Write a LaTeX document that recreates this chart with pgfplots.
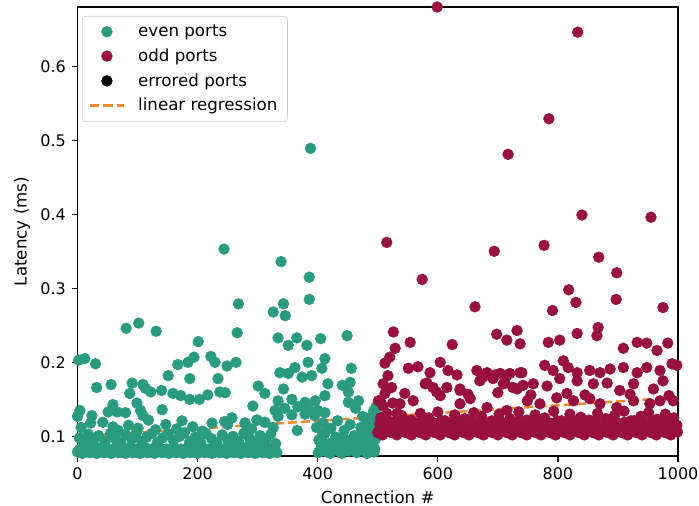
\documentclass[border=0pt]{standalone}
\usepackage{fontspec}
\setmainfont{DejaVu Sans}
\usepackage{pgfplots}
\pgfplotsset{compat=1.18}
\definecolor{evenc}{RGB}{40,155,128}
\definecolor{oddc}{RGB}{153,16,62}
\definecolor{regc}{RGB}{240,136,44}
\begin{document}
\begin{tikzpicture}
\begin{axis}[
  name=ax,
  scale only axis,
  width=360.3pt, height=269.4pt,
  xmin=0, xmax=1000, ymin=0.0735, ymax=0.68,
  xtick={0,200,400,600,800,1000},
  ytick={0.1,0.2,0.3,0.4,0.5,0.6},
  tick pos=left, tick align=outside, major tick length=3.5pt,
  axis line style={line width=0.8pt},
  every tick/.style={black,line width=0.8pt},
  tick label style={font=\fontsize{9.6}{11}\selectfont},
  /pgf/number format/assume math mode=true,
  /pgf/number format/1000 sep={},
  yticklabel style={/pgf/number format/fixed,/pgf/number format/precision=1,/pgf/number format/fixed zerofill},
  xlabel={Connection \#}, ylabel={Latency (ms)},
  label style={font=\fontsize{10}{12}\selectfont},
  xlabel style={at={(axis description cs:0.5,-0.0913)},anchor=center},
  ylabel style={at={(axis description cs:-0.0925,0.5)},anchor=center},
  title={Comparison of latency vs.\ connection with linear regression},
  title style={at={(axis description cs:0.5,1)},anchor=base,yshift=3.6pt,font=\fontsize{10.6}{12}\selectfont},
  legend image code/.code={\draw[mark repeat=2,mark phase=2,#1] plot coordinates {(0pt,0pt) (10pt,0pt) (20pt,0pt)};},
  legend cell align=left,
  legend style={at={(axis description cs:0.0075,0.98)},anchor=north west,draw=black!20,rounded corners=2pt,fill=white,font=\fontsize{10}{12}\selectfont,row sep=1.8pt,inner xsep=4pt,inner ysep=3pt,
    /tikz/every odd column/.append style={column sep=6pt}},
]
% even ports
\addplot[only marks, mark=*, mark size=3.2pt, color=evenc] table[row sep=\\] {
x y\\
0 0.079\\ 4 0.083\\ 8 0.077\\ 12 0.081\\ 16 0.085\\ 20 0.078\\
24 0.079\\ 28 0.083\\ 32 0.077\\ 36 0.081\\ 40 0.085\\ 44 0.078\\
48 0.079\\ 52 0.083\\ 56 0.077\\ 60 0.081\\ 64 0.085\\ 68 0.078\\
72 0.079\\ 76 0.083\\ 80 0.077\\ 84 0.081\\ 88 0.085\\ 92 0.078\\
96 0.079\\ 100 0.083\\ 104 0.077\\ 108 0.081\\ 112 0.085\\ 116 0.078\\
120 0.079\\ 124 0.083\\ 128 0.077\\ 132 0.081\\ 136 0.085\\ 140 0.078\\
144 0.079\\ 148 0.083\\ 152 0.077\\ 156 0.081\\ 160 0.085\\ 164 0.078\\
168 0.079\\ 172 0.083\\ 176 0.077\\ 180 0.081\\ 184 0.085\\ 188 0.078\\
192 0.079\\ 196 0.083\\ 200 0.077\\ 204 0.081\\ 208 0.085\\ 212 0.078\\
216 0.079\\ 220 0.083\\ 224 0.077\\ 228 0.081\\ 232 0.085\\ 236 0.078\\
240 0.079\\ 244 0.083\\ 248 0.077\\ 252 0.081\\ 256 0.085\\ 260 0.078\\
264 0.079\\ 268 0.083\\ 272 0.077\\ 276 0.081\\ 280 0.085\\ 284 0.078\\
288 0.079\\ 292 0.083\\ 296 0.077\\ 300 0.081\\ 304 0.085\\ 308 0.078\\
312 0.079\\ 316 0.083\\ 320 0.077\\ 324 0.081\\ 328 0.085\\ 332 0.078\\
3 0.098\\ 10 0.092\\ 18 0.103\\ 27 0.095\\ 35 0.101\\ 46 0.093\\ 55 0.104\\ 63 0.097\\
72 0.091\\ 80 0.102\\ 90 0.096\\ 98 0.105\\ 107 0.093\\ 115 0.099\\ 124 0.104\\ 133 0.092\\
142 0.098\\ 151 0.103\\ 160 0.094\\ 170 0.100\\ 178 0.105\\ 187 0.093\\ 196 0.099\\ 205 0.092\\
214 0.104\\ 223 0.097\\ 232 0.091\\ 241 0.102\\ 250 0.095\\ 259 0.100\\ 268 0.093\\ 277 0.104\\
286 0.098\\ 295 0.092\\ 304 0.101\\ 313 0.095\\ 322 0.103\\ 330 0.090\\
6 0.112\\ 22 0.118\\ 42 0.119\\ 59 0.113\\ 68 0.108\\ 85 0.115\\ 101 0.111\\ 118 0.122\\
130 0.109\\ 147 0.116\\ 165 0.110\\ 174 0.121\\ 192 0.113\\ 208 0.107\\ 224 0.118\\ 245 0.120\\
250 0.116\\ 257 0.125\\ 279 0.118\\ 290 0.110\\ 299 0.122\\ 312 0.119\\ 326 0.112\\
0 0.127\\ 4 0.135\\ 24 0.128\\ 51 0.133\\ 59 0.143\\ 66 0.133\\ 80 0.132\\ 87 0.158\\
99 0.145\\ 105 0.135\\ 109 0.128\\ 141 0.136\\
2 0.203\\ 12 0.205\\ 30 0.198\\ 32 0.166\\ 56 0.170\\ 91 0.172\\ 109 0.170\\ 113 0.165\\
122 0.160\\ 140 0.162\\ 159 0.158\\ 172 0.155\\ 187 0.150\\ 203 0.150\\ 217 0.156\\ 237 0.160\\
151 0.182\\ 187 0.178\\ 234 0.178\\ 167 0.197\\ 184 0.200\\ 194 0.207\\ 222 0.208\\ 229 0.200\\
249 0.195\\ 201 0.228\\ 81 0.246\\ 102 0.253\\ 131 0.242\\ 244 0.353\\ 268 0.279\\ 266 0.240\\
264 0.200\\ 246 0.159\\
339 0.336\\ 386 0.315\\ 386 0.285\\ 326 0.268\\ 343 0.279\\ 346 0.263\\ 449 0.236\\ 334 0.233\\
351 0.223\\ 365 0.233\\ 382 0.223\\ 412 0.205\\ 384 0.200\\ 362 0.193\\ 337 0.186\\ 351 0.185\\
374 0.180\\ 390 0.182\\ 407 0.192\\ 456 0.192\\ 441 0.169\\ 454 0.173\\ 451 0.160\\ 451 0.146\\
301 0.168\\ 312 0.158\\ 343 0.164\\ 334 0.148\\ 357 0.150\\ 379 0.146\\ 396 0.148\\ 412 0.155\\
417 0.171\\ 292 0.141\\ 329 0.135\\ 345 0.138\\ 367 0.140\\ 384 0.138\\ 400 0.135\\ 412 0.132\\
334 0.127\\ 357 0.129\\ 379 0.130\\ 395 0.128\\ 257 0.125\\ 279 0.118\\ 299 0.122\\ 312 0.119\\
366 0.108\\ 388 0.489\\ 405 0.232\\
398 0.112\\ 402 0.095\\ 405 0.083\\ 409 0.118\\ 412 0.104\\ 415 0.079\\ 419 0.090\\ 422 0.111\\
426 0.082\\ 430 0.099\\ 433 0.121\\ 437 0.087\\ 440 0.077\\ 444 0.108\\ 447 0.094\\ 451 0.080\\
454 0.116\\ 458 0.089\\ 461 0.101\\ 465 0.078\\ 468 0.093\\ 472 0.112\\ 475 0.084\\ 479 0.098\\
482 0.077\\ 486 0.106\\ 489 0.088\\ 492 0.119\\ 494 0.079\\ 496 0.096\\ 498 0.110\\ 499 0.128\\
497 0.140\\ 495 0.083\\ 490 0.100\\ 484 0.092\\ 478 0.081\\ 470 0.100\\ 463 0.087\\ 456 0.096\\
449 0.085\\ 442 0.098\\ 435 0.080\\ 428 0.090\\ 421 0.077\\ 413 0.090\\ 407 0.100\\ 401 0.078\\
487 0.125\\ 493 0.134\\ 480 0.118\\ 463 0.138\\ 475 0.127\\ 468 0.148\\
};
\addlegendentry{even ports}
% odd ports
\addplot[only marks, mark=*, mark size=3.2pt, color=oddc] table[row sep=\\] {
x y\\
500 0.105\\ 504 0.111\\ 508 0.102\\ 512 0.108\\ 516 0.114\\ 520 0.106\\
524 0.105\\ 528 0.111\\ 532 0.102\\ 536 0.108\\ 540 0.114\\ 544 0.106\\
548 0.105\\ 552 0.111\\ 556 0.102\\ 560 0.108\\ 564 0.114\\ 568 0.106\\
572 0.105\\ 576 0.111\\ 580 0.102\\ 584 0.108\\ 588 0.114\\ 592 0.106\\
596 0.105\\ 600 0.111\\ 604 0.102\\ 608 0.108\\ 612 0.114\\ 616 0.106\\
620 0.105\\ 624 0.111\\ 628 0.102\\ 632 0.108\\ 636 0.114\\ 640 0.106\\
644 0.105\\ 648 0.111\\ 652 0.102\\ 656 0.108\\ 660 0.114\\ 664 0.106\\
668 0.105\\ 672 0.111\\ 676 0.102\\ 680 0.108\\ 684 0.114\\ 688 0.106\\
692 0.105\\ 696 0.111\\ 700 0.102\\ 704 0.108\\ 708 0.114\\ 712 0.106\\
716 0.105\\ 720 0.111\\ 724 0.102\\ 728 0.108\\ 732 0.114\\ 736 0.106\\
740 0.105\\ 744 0.111\\ 748 0.102\\ 752 0.108\\ 756 0.114\\ 760 0.106\\
764 0.105\\ 768 0.111\\ 772 0.102\\ 776 0.108\\ 780 0.114\\ 784 0.106\\
788 0.105\\ 792 0.111\\ 796 0.102\\ 800 0.108\\ 804 0.114\\ 808 0.106\\
812 0.105\\ 816 0.111\\ 820 0.102\\ 824 0.108\\ 828 0.114\\ 832 0.106\\
836 0.105\\ 840 0.111\\ 844 0.102\\ 848 0.108\\ 852 0.114\\ 856 0.106\\
860 0.105\\ 864 0.111\\ 868 0.102\\ 872 0.108\\ 876 0.114\\ 880 0.106\\
884 0.105\\ 888 0.111\\ 892 0.102\\ 896 0.108\\ 900 0.114\\ 904 0.106\\
908 0.105\\ 912 0.111\\ 916 0.102\\ 920 0.108\\ 924 0.114\\ 928 0.106\\
932 0.105\\ 936 0.111\\ 940 0.102\\ 944 0.108\\ 948 0.114\\ 952 0.106\\
956 0.105\\ 960 0.111\\ 964 0.102\\ 968 0.108\\ 972 0.114\\ 976 0.106\\
980 0.105\\ 984 0.111\\ 988 0.102\\ 992 0.108\\ 996 0.114\\ 999 0.106\\
503 0.117\\ 511 0.121\\ 519 0.115\\ 527 0.119\\ 535 0.117\\ 543 0.121\\ 551 0.115\\ 559 0.119\\
567 0.117\\ 575 0.121\\ 583 0.115\\ 591 0.119\\ 599 0.117\\ 607 0.121\\ 615 0.115\\ 623 0.119\\
631 0.117\\ 639 0.121\\ 647 0.115\\ 655 0.119\\ 663 0.117\\ 671 0.121\\ 679 0.115\\ 687 0.119\\
695 0.117\\ 703 0.121\\ 711 0.115\\ 719 0.119\\ 727 0.117\\ 735 0.121\\ 743 0.115\\ 751 0.119\\
759 0.117\\ 767 0.121\\ 775 0.115\\ 783 0.119\\ 791 0.117\\ 799 0.121\\ 807 0.115\\ 815 0.119\\
823 0.117\\ 831 0.121\\ 839 0.115\\ 847 0.119\\ 855 0.117\\ 863 0.121\\ 871 0.115\\ 879 0.119\\
887 0.117\\ 895 0.121\\ 903 0.115\\ 911 0.119\\ 919 0.117\\ 927 0.121\\ 935 0.115\\ 943 0.119\\
951 0.117\\ 959 0.121\\ 967 0.115\\ 975 0.119\\ 983 0.117\\ 991 0.121\\ 998 0.115\\
540 0.128\\ 556 0.122\\ 571 0.131\\ 585 0.125\\ 600 0.133\\ 612 0.121\\ 628 0.129\\ 645 0.124\\
660 0.132\\ 673 0.127\\ 690 0.121\\ 702 0.130\\ 720 0.124\\ 735 0.133\\ 748 0.122\\ 762 0.129\\
778 0.125\\ 793 0.134\\ 806 0.121\\ 820 0.130\\ 838 0.126\\ 852 0.122\\ 866 0.131\\ 880 0.124\\
894 0.128\\ 910 0.134\\ 922 0.121\\ 938 0.127\\ 951 0.132\\ 965 0.123\\ 979 0.130\\ 993 0.125\\
504 0.148\\ 537 0.144\\ 559 0.148\\ 604 0.155\\ 637 0.144\\ 654 0.151\\ 682 0.139\\ 715 0.135\\
749 0.148\\ 770 0.144\\ 798 0.152\\ 826 0.148\\ 853 0.151\\ 870 0.144\\ 898 0.139\\ 926 0.148\\
953 0.144\\ 970 0.148\\ 992 0.148\\
545 0.158\\ 598 0.160\\ 650 0.157\\ 700 0.159\\ 755 0.156\\ 815 0.158\\ 845 0.156\\ 920 0.157\\
985 0.155\\
582 0.172\\ 615 0.166\\ 637 0.164\\ 670 0.175\\ 692 0.178\\ 712 0.172\\ 732 0.164\\ 759 0.171\\
782 0.168\\ 803 0.178\\ 832 0.175\\ 859 0.171\\ 882 0.172\\ 903 0.162\\ 926 0.171\\ 959 0.164\\
975 0.175\\
551 0.192\\ 567 0.194\\ 587 0.186\\ 604 0.200\\ 617 0.189\\ 632 0.183\\ 665 0.189\\ 682 0.186\\
704 0.185\\ 715 0.182\\ 737 0.186\\ 778 0.196\\ 792 0.189\\ 809 0.202\\ 817 0.193\\ 832 0.186\\
853 0.189\\ 870 0.186\\ 887 0.191\\ 909 0.193\\ 932 0.186\\ 948 0.193\\ 970 0.189\\ 990 0.198\\
579 0.171\\ 592 0.166\\ 637 0.162\\ 675 0.180\\ 695 0.183\\ 709 0.171\\ 720 0.185\\ 740 0.186\\
725 0.166\\ 742 0.169\\
529 0.219\\ 520 0.207\\ 512 0.199\\ 517 0.182\\ 509 0.171\\ 523 0.166\\ 512 0.158\\ 501 0.148\\
509 0.141\\ 525 0.145\\ 515 0.131\\ 532 0.131\\ 505 0.125\\ 520 0.120\\
526 0.241\\ 554 0.227\\ 624 0.224\\ 698 0.238\\ 715 0.230\\ 732 0.243\\ 737 0.225\\ 784 0.227\\
803 0.230\\ 832 0.239\\ 867 0.247\\ 865 0.236\\ 909 0.219\\ 932 0.227\\ 948 0.226\\ 965 0.216\\
983 0.226\\ 998 0.196\\
599 0.680\\ 833 0.646\\ 785 0.529\\ 717 0.481\\ 515 0.362\\ 840 0.399\\ 955 0.396\\ 694 0.350\\
777 0.358\\ 574 0.312\\ 868 0.342\\ 898 0.321\\ 818 0.298\\ 830 0.281\\ 897 0.285\\ 975 0.274\\
662 0.275\\ 791 0.270\\
};
\addlegendentry{odd ports}
\addlegendimage{only marks, mark=*, mark size=3.2pt, black}
\addlegendentry{errored ports}
\addplot[regc, line width=1.5pt, dash pattern=on 5.5pt off 2.4pt] coordinates {(0,0.1) (1000,0.1525)};
\addlegendentry{linear regression}
\end{axis}
\pgfresetboundingbox
\path[use as bounding box] ([xshift=-46.5pt,yshift=-30pt]ax.south west) rectangle ([xshift=12.6pt,yshift=4.2pt]ax.north east);
\end{tikzpicture}
\end{document}
